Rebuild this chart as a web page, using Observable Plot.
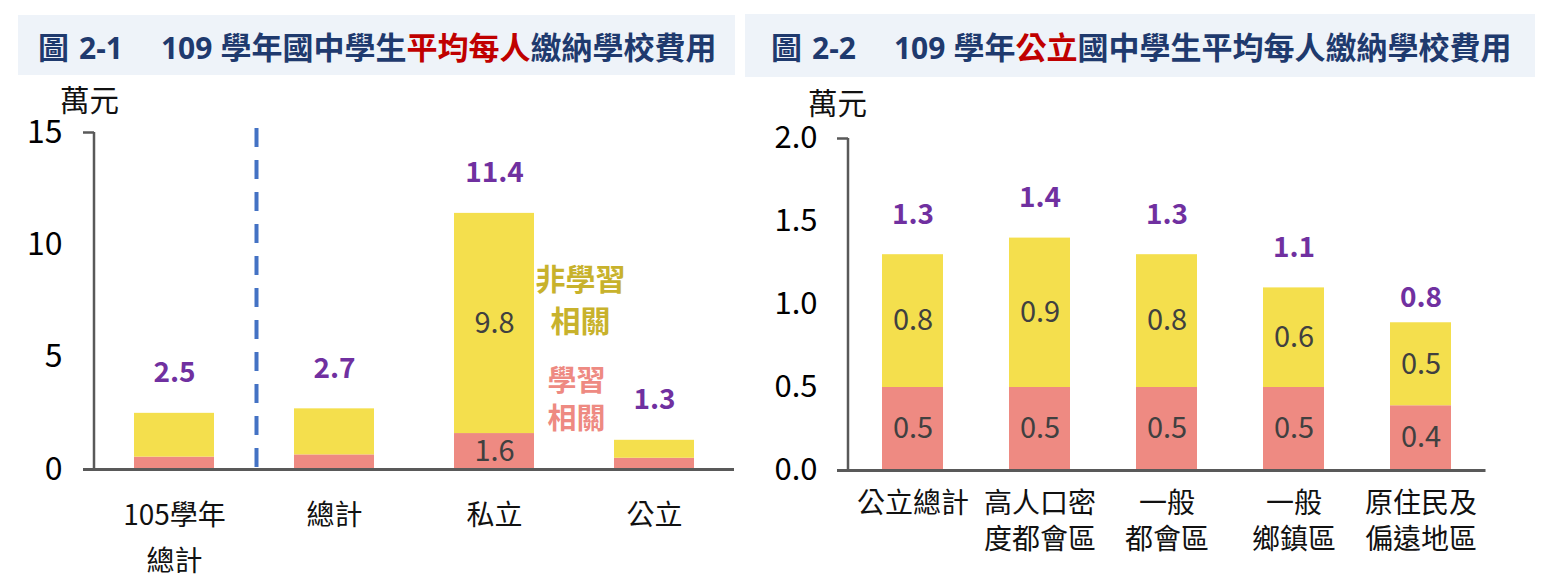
<!DOCTYPE html>
<html>
<head>
<meta charset="utf-8">
<script src="https://cdn.jsdelivr.net/npm/d3@7"></script>
<script src="https://cdn.jsdelivr.net/npm/@observablehq/plot@0.6"></script>
<style>
  html, body { margin: 0; padding: 0; background: #fff; }
  body { width: 1550px; height: 584px; position: relative; overflow: hidden; font-family: "Noto Sans CJK TC", "Noto Sans", sans-serif; }
  .titlebar { position: absolute; background: #EEF3F9; color: #1F3A6E; font-weight: bold; font-size: 31px; white-space: pre; box-sizing: border-box; }
  .titlebar .hl { color: #C00000; }
  .titlebar .num { font-family: "Noto Sans", sans-serif; font-size: 30px; }
  .titlebar .gap1 { display: inline-block; width: 10px; }
  .titlebar .gap3 { display: inline-block; width: 38px; }
  .titlebar .gap2 { display: inline-block; width: 8px; }
  #t1 { left: 18px; top: 15px; width: 717px; height: 60px; line-height: 62px; padding-left: 20px; }
  #t2 { left: 745px; top: 14px; width: 790px; height: 63px; line-height: 64px; padding-left: 26px; }
  #p1 { position: absolute; left: 0; top: 80px; }
  #p2 { position: absolute; left: 740px; top: 80px; }
</style>
</head>
<body>
<div id="t1" class="titlebar">圖<span class="gap1"></span><span class="num">2-1</span><span class="gap3"></span><span class="num">109</span><span class="gap2"></span>學年國中學生<span class="hl">平均每人</span>繳納學校費用</div>
<div id="t2" class="titlebar">圖<span class="gap1"></span><span class="num">2-2</span><span class="gap3"></span><span class="num">109</span><span class="gap2"></span>學年<span class="hl">公立</span>國中學生平均每人繳納學校費用</div>
<div id="p1"></div>
<div id="p2"></div>
<script>
// ---------- data: left chart (圖 2-1) ----------
const leftCategories = ["105學年\n總計", "總計", "私立", "公立"];
const leftLearning = [0.55, 0.65, 1.6, 0.5];        // 學習相關
const leftNonLearning = [1.95, 2.05, 9.8, 0.8];     // 非學習相關
const leftTotals = [2.5, 2.7, 11.4, 1.3];
const leftLearningLabels = ["", "", "1.6", ""];
const leftNonLearningLabels = ["", "", "9.8", ""];
const leftTicks = [0, 5, 10, 15];

// ---------- data: right chart (圖 2-2) ----------
const rightCategories = ["公立總計", "高人口密\n度都會區", "一般\n都會區", "一般\n鄉鎮區", "原住民及\n偏遠地區"];
const rightLearning = [0.5, 0.5, 0.5, 0.5, 0.39];
const rightNonLearning = [0.8, 0.9, 0.8, 0.6, 0.5];
const rightTotals = [1.3, 1.4, 1.3, 1.1, 0.8];
const rightTicks = [0, 0.5, 1.0, 1.5, 2.0];

const seriesNames = ["學習相關", "非學習相關"];
const seriesColors = ["#EE8A82", "#F4DF4D"];
const unitLabel = "萬元";

const FONT = "'Noto Sans CJK TC', 'Noto Sans', sans-serif";
const AXIS = "#595959";
const PURPLE = "#7030A0";
const SEG = "#404040";
const fmt1 = d3.format(".1f");

function rowsOf(cats, learning, nonLearning, lLabels, nLabels) {
  const rows = [];
  cats.forEach((c, i) => rows.push({cat: c, series: seriesNames[0], value: learning[i], label: lLabels ? lLabels[i] : fmt1(learning[i])}));
  cats.forEach((c, i) => rows.push({cat: c, series: seriesNames[1], value: nonLearning[i], label: nLabels ? nLabels[i] : fmt1(nonLearning[i])}));
  return rows;
}

// vertical y-axis line drawn at the frame's left edge, spanning the y scale's domain
function yAxisLine() {
  return (index, scales, values, dimensions) => {
    const [d0, d1] = scales.scales ? scales.scales.y.domain : (scales.y.domain ? scales.y.domain() : [0, 1]);
    const line = document.createElementNS("http://www.w3.org/2000/svg", "line");
    const x = dimensions.marginLeft;
    line.setAttribute("x1", x);
    line.setAttribute("x2", x);
    line.setAttribute("y1", scales.y(d1));
    line.setAttribute("y2", scales.y(d0));
    line.setAttribute("stroke", AXIS);
    line.setAttribute("stroke-width", 2.5);
    return line;
  };
}

// ---------- left chart ----------
const leftRows = rowsOf(leftCategories, leftLearning, leftNonLearning, leftLearningLabels, leftNonLearningLabels);
const leftTotalRows = leftCategories.map((c, i) => ({cat: c, total: leftTotals[i]}));

const left = Plot.plot({
  width: 740,
  height: 504,
  marginTop: 52,
  marginBottom: 115,
  marginLeft: 94,
  marginRight: 6,
  style: {fontFamily: FONT, background: "transparent", overflow: "visible"},
  x: {domain: leftCategories, paddingInner: 0.5, paddingOuter: 0.25, axis: null},
  y: {domain: [0, 15], axis: null},
  color: {domain: seriesNames, range: seriesColors},
  marks: [
    Plot.barY(leftRows, {x: "cat", y: "value", fill: "series", order: seriesNames}),
    Plot.text(leftRows, Plot.stackY({x: "cat", y: "value", z: "series", order: seriesNames, text: "label", fill: SEG, fontSize: 29})),
    Plot.text(leftTotalRows, {x: "cat", y: "total", text: d => fmt1(d.total), dy: -40, fill: PURPLE, fontWeight: "bold", fontSize: 28}),
    Plot.ruleX([leftCategories[1]], {stroke: "#4472C4", strokeWidth: 4, strokeDasharray: "19 13", dx: -78, insetTop: -4, insetBottom: -3}),
    Plot.text(["非學習\n相關"], {x: () => "私立", dx: 86, dy: -3, fill: "#C8B22C", fontSize: 30, fontWeight: 600, lineHeight: 1.4}),
    Plot.text(["學習\n相關"], {x: () => "私立", dx: 82, dy: 97, fill: "#EE8A82", fontSize: 29, fontWeight: 600, lineHeight: 1.32}),
    yAxisLine(),
    Plot.axisY({ticks: [15], tickSize: 11, tickFormat: () => "", stroke: AXIS, strokeWidth: 2.5}),
    Plot.axisY({ticks: leftTicks, tickSize: 0, tickPadding: 32, fontSize: 32, fill: "#000", tickFormat: d => String(d)}),
    Plot.ruleY([0], {stroke: AXIS, strokeWidth: 3, insetLeft: -11}),
    Plot.text(leftCategories, {x: d => d, frameAnchor: "bottom", lineAnchor: "top", dy: 23, fontSize: 28, fill: "#111", lineHeight: 1.64}),
    Plot.text([unitLabel], {frameAnchor: "top-left", textAnchor: "middle", dx: -5, dy: -42, fontSize: 29.5, fill: "#111"})
  ]
});
document.getElementById("p1").appendChild(left);

// ---------- right chart ----------
const rightRows = rowsOf(rightCategories, rightLearning, rightNonLearning);
const rightTotalRows = rightCategories.map((c, i) => ({cat: c, total: rightTotals[i]}));

const right = Plot.plot({
  width: 810,
  height: 504,
  marginTop: 58,
  marginBottom: 114,
  marginLeft: 108,
  marginRight: 64.5,
  style: {fontFamily: FONT, background: "transparent", overflow: "visible"},
  x: {domain: rightCategories, paddingInner: 0.52, paddingOuter: 0.26, axis: null},
  y: {domain: [0, 2], axis: null},
  color: {domain: seriesNames, range: seriesColors},
  marks: [
    Plot.barY(rightRows, {x: "cat", y: "value", fill: "series", order: seriesNames}),
    Plot.text(rightRows, Plot.stackY({x: "cat", y: "value", z: "series", order: seriesNames, text: "label", fill: SEG, fontSize: 29})),
    Plot.text(rightTotalRows, {x: "cat", y: "total", text: d => fmt1(d.total), dy: -40, fill: PURPLE, fontWeight: "bold", fontSize: 28}),
    yAxisLine(),
    Plot.axisY({ticks: [2], tickSize: 11, tickFormat: () => "", stroke: AXIS, strokeWidth: 2.5}),
    Plot.axisY({ticks: rightTicks, tickSize: 0, tickPadding: 31, fontSize: 31, fill: "#000", tickFormat: fmt1}),
    Plot.ruleY([0], {stroke: AXIS, strokeWidth: 3, insetLeft: -11}),
    Plot.text(rightCategories, {x: d => d, frameAnchor: "bottom", lineAnchor: "top", dy: 17, fontSize: 28, fill: "#111", lineHeight: 1.29}),
    Plot.text([unitLabel], {frameAnchor: "top-left", textAnchor: "middle", dx: -11, dy: -45, fontSize: 29.5, fill: "#111"})
  ]
});
document.getElementById("p2").appendChild(right);
</script>
</body>
</html>
